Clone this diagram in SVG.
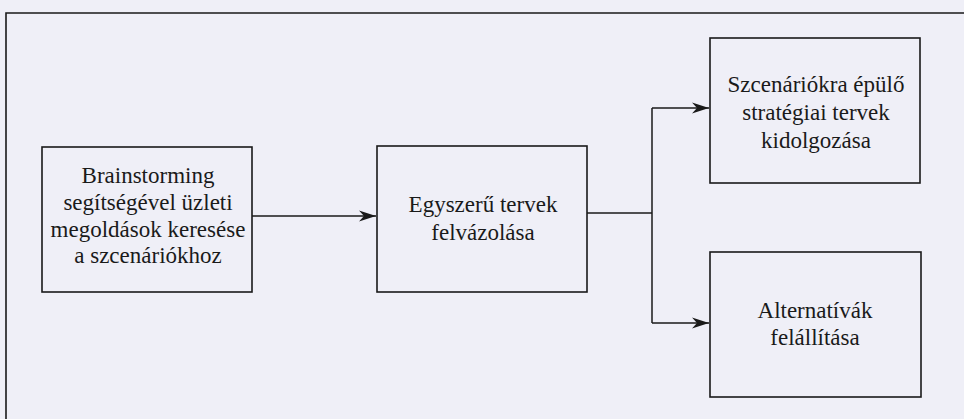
<svg xmlns="http://www.w3.org/2000/svg" width="964" height="419" viewBox="0 0 964 419">
<style>
.box{fill:#efeff7;stroke:#1a1a1a;stroke-width:1.6}
.frame{fill:none;stroke:#1a1a1a;stroke-width:1.6}
.conn{fill:none;stroke:#1a1a1a;stroke-width:1.5}
.lbl{font-family:'Liberation Serif','Times New Roman',serif;font-size:23px;fill:#1a1a1a;text-anchor:middle}
</style>
<defs>
<marker id="arr" markerWidth="18" markerHeight="12" refX="17" refY="6" orient="auto" markerUnits="userSpaceOnUse">
<path d="M0,0.5 L17,6 L0,11.5 L5,6 Z" fill="#1a1a1a"/>
</marker>
</defs>
<rect x="0" y="0" width="964" height="419" fill="#efeff7"/>
<path class="frame" d="M6,419 V13 H964"/>
<g id="connectors">
<line class="conn" x1="252" y1="216" x2="376" y2="216" marker-end="url(#arr)"/>
<path class="conn" d="M587,213 H652"/>
<path class="conn" d="M652,108 V323"/>
<line class="conn" x1="652" y1="108" x2="709" y2="108" marker-end="url(#arr)"/>
<line class="conn" x1="652" y1="323" x2="709" y2="323" marker-end="url(#arr)"/>
</g>
<g id="node1">
<rect class="box" x="42" y="147" width="210" height="145"/>
<text class="lbl" x="148" y="183">Brainstorming</text>
<text class="lbl" x="148" y="210">segítségével üzleti</text>
<text class="lbl" x="148" y="237">megoldások keresése</text>
<text class="lbl" x="148" y="263">a szcenáriókhoz</text>
</g>
<g id="node2">
<rect class="box" x="377" y="146" width="210" height="146"/>
<text class="lbl" x="483" y="212">Egyszerű tervek</text>
<text class="lbl" x="483" y="240">felvázolása</text>
</g>
<g id="node3">
<rect class="box" x="710" y="38" width="210" height="145"/>
<text class="lbl" x="816" y="92">Szcenáriókra épülő</text>
<text class="lbl" x="816" y="120">stratégiai tervek</text>
<text class="lbl" x="816" y="148">kidolgozása</text>
</g>
<g id="node4">
<rect class="box" x="710" y="252" width="211" height="145"/>
<text class="lbl" x="815" y="318">Alternatívák</text>
<text class="lbl" x="815" y="345">felállítása</text>
</g>
</svg>
